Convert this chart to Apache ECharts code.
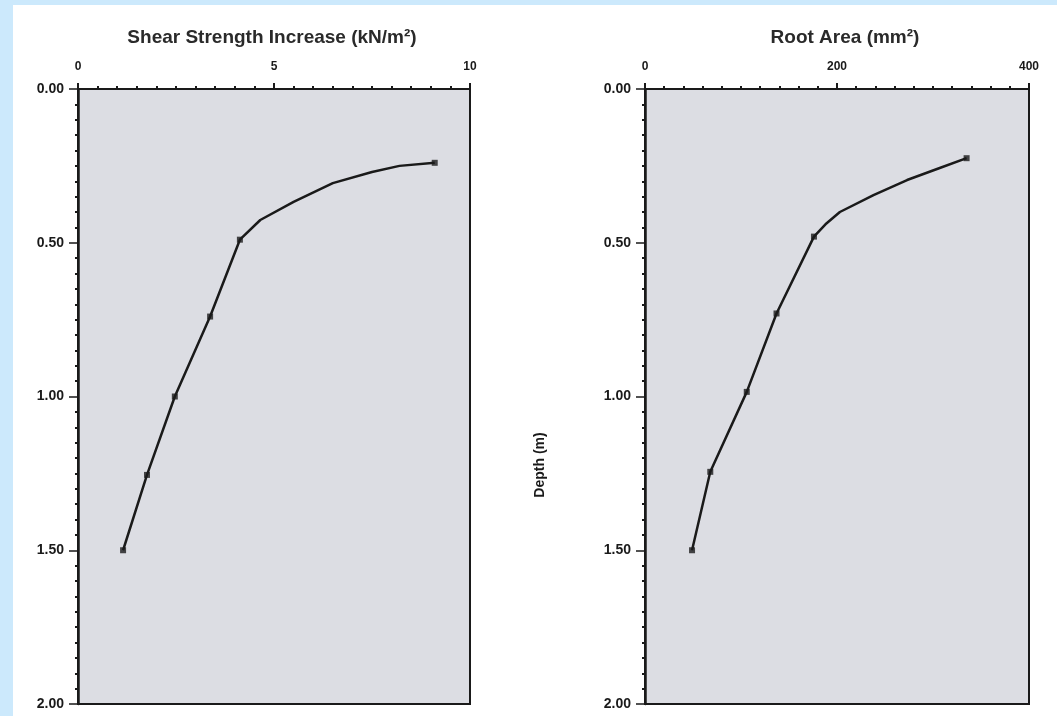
<!DOCTYPE html>
<html>
<head>
<meta charset="utf-8">
<script src="https://cdn.jsdelivr.net/npm/echarts@6/dist/echarts.min.js"></script>
<style>
html,body{margin:0;padding:0;background:#ffffff;}
#chart{width:1057px;height:716px;}
</style>
</head>
<body>
<div id="chart"></div>
<script>
// ---- Data ----
const shearTitle = 'Shear Strength Increase (kN/m\u00B2)';
const rootTitle = 'Root Area (mm\u00B2)';
const depthName = 'Depth (m)';

// Shear strength increase curve (kN/m2) vs depth (m)
const shearCurveX     = [9.1, 8.2, 7.5, 6.5, 5.5, 4.65, 4.13, 3.37, 2.47, 1.76, 1.15];
const shearCurveDepth = [0.24, 0.25, 0.27, 0.306, 0.367, 0.426, 0.49, 0.74, 1.0, 1.255, 1.5];
// Measured points (markers)
const shearPointX     = [9.1, 4.13, 3.37, 2.47, 1.76, 1.15];
const shearPointDepth = [0.24, 0.49, 0.74, 1.0, 1.255, 1.5];

// Root area curve (mm2) vs depth (m)
const rootCurveX     = [335, 307, 273, 238, 203, 188, 176, 137, 106, 68, 49];
const rootCurveDepth = [0.225, 0.257, 0.296, 0.345, 0.40, 0.44, 0.48, 0.73, 0.985, 1.245, 1.5];
const rootPointX     = [335, 176, 137, 106, 68, 49];
const rootPointDepth = [0.225, 0.48, 0.73, 0.985, 1.245, 1.5];

// Axis ticks
const shearTicks = [0, 5, 10];
const rootTicks = [0, 200, 400];
const depthTicks = [0, 0.5, 1.0, 1.5, 2.0];

function pairs(xs, ys) { return xs.map((x, i) => [x, ys[i]]); }

const FONT = "'Liberation Sans', Arial, sans-serif";
const INK = '#1a1a1a';

function xAxisCfg(idx, ticks) {
  const step = ticks[1] - ticks[0];
  return {
    type: 'value', gridIndex: idx, position: 'top',
    min: ticks[0], max: ticks[ticks.length - 1], interval: step,
    axisLine: { show: true, onZero: false, lineStyle: { color: INK, width: 2 } },
    axisTick: { show: true, inside: false, length: 6, lineStyle: { color: INK, width: 2 } },
    minorTick: { show: true, splitNumber: 10, length: 3, lineStyle: { color: INK, width: 2 } },
    splitLine: { show: false },
    axisLabel: { color: INK, fontFamily: FONT, fontWeight: 'bold', fontSize: 12, margin: 16 }
  };
}
function yAxisCfg(idx) {
  return {
    type: 'value', gridIndex: idx, inverse: true,
    min: depthTicks[0], max: depthTicks[depthTicks.length - 1], interval: depthTicks[1] - depthTicks[0],
    axisLine: { show: true, onZero: false, lineStyle: { color: INK, width: 2.5 } },
    axisTick: { show: true, inside: false, length: 9, lineStyle: { color: INK, width: 1.5 } },
    minorTick: { show: true, splitNumber: 10, length: 3, lineStyle: { color: INK, width: 2 } },
    splitLine: { show: false },
    axisLabel: { color: INK, fontFamily: FONT, fontWeight: 'bold', fontSize: 14, margin: 14,
      formatter: v => v.toFixed(2) }
  };
}

const chart = echarts.init(document.getElementById('chart'), null, { renderer: 'canvas' });
chart.setOption({
  backgroundColor: '#ffffff',
  animation: false,
  title: [
    { text: shearTitle, left: 267, top: 23, textAlign: 'center',
      textStyle: { fontFamily: FONT, fontSize: 19, fontWeight: 'bold', color: '#2a2a2a' } },
    { text: rootTitle, left: 840, top: 23, textAlign: 'center',
      textStyle: { fontFamily: FONT, fontSize: 19, fontWeight: 'bold', color: '#2a2a2a' } }
  ],
  graphic: [
    { type: 'rect', left: 0, top: 0, shape: { width: 1057, height: 5 }, style: { fill: '#cce9fc' }, silent: true },
    { type: 'rect', left: 0, top: 0, shape: { width: 13, height: 716 }, style: { fill: '#cce9fc' }, silent: true },
    { type: 'text', x: 540, y: 465, rotation: Math.PI / 2,
      style: { text: depthName, fill: INK, font: "bold 14px 'Liberation Sans', Arial, sans-serif",
        textAlign: 'center', textVerticalAlign: 'middle' } }
  ],
  grid: [
    { left: 78, top: 89, width: 392, height: 615, show: true, backgroundColor: '#dcdde3',
      borderColor: INK, borderWidth: 2 },
    { left: 645, top: 89, width: 384, height: 615, show: true, backgroundColor: '#dcdde3',
      borderColor: INK, borderWidth: 2 }
  ],
  xAxis: [xAxisCfg(0, shearTicks), xAxisCfg(1, rootTicks)],
  yAxis: [yAxisCfg(0), yAxisCfg(1)],
  series: [
    { type: 'line', xAxisIndex: 0, yAxisIndex: 0, data: pairs(shearCurveX, shearCurveDepth),
      showSymbol: false, smooth: false, lineStyle: { color: INK, width: 2.5 } },
    { type: 'scatter', xAxisIndex: 0, yAxisIndex: 0, data: pairs(shearPointX, shearPointDepth),
      symbol: 'rect', symbolSize: 6, itemStyle: { color: INK } },
    { type: 'line', xAxisIndex: 1, yAxisIndex: 1, data: pairs(rootCurveX, rootCurveDepth),
      showSymbol: false, smooth: false, lineStyle: { color: INK, width: 2.5 } },
    { type: 'scatter', xAxisIndex: 1, yAxisIndex: 1, data: pairs(rootPointX, rootPointDepth),
      symbol: 'rect', symbolSize: 6, itemStyle: { color: INK } }
  ]
});
</script>
</body>
</html>
